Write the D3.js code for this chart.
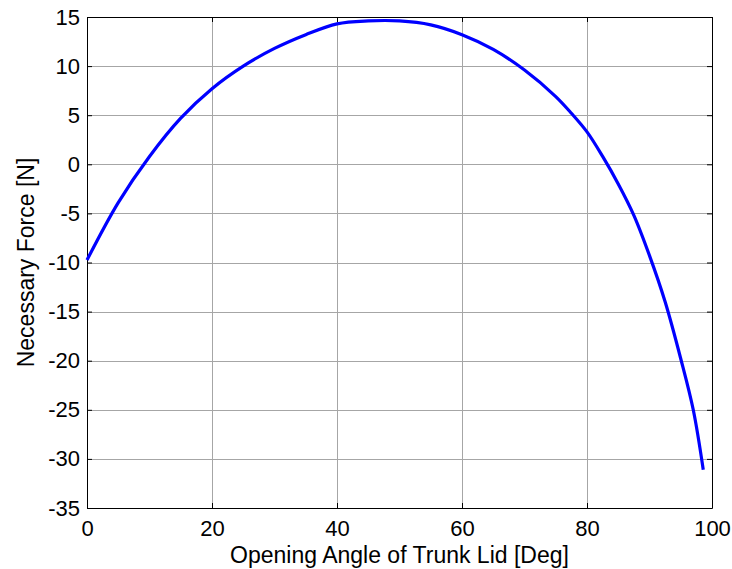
<!DOCTYPE html>
<html>
<head>
<meta charset="utf-8">
<script src="https://cdn.jsdelivr.net/npm/d3@7"></script>
<style>
  body { margin: 0; background: #fff; }
  text { font-family: "Liberation Sans", Arial, sans-serif; }
</style>
</head>
<body>
<div id="chart"></div>
<script>
// opening angle [deg] and force [N]
var angle = [0, 5, 10, 15, 20, 25, 30, 35, 40, 45, 50, 55, 60, 65, 70, 75, 77.5, 80, 82.5, 85, 87.5, 90, 92.5, 95, 97, 98.6];
var force = [-9.75, -3.9, 0.8, 4.7, 7.7, 10.0, 11.8, 13.2, 14.3, 14.6, 14.6, 14.2, 13.2, 11.7, 9.6, 6.9, 5.2, 3.3, 0.8, -2.0, -5.2, -9.3, -14.0, -19.8, -25.0, -31.1];
var xTicks = [0, 20, 40, 60, 80, 100];
var yTicks = [15, 10, 5, 0, -5, -10, -15, -20, -25, -30, -35];

var W = 732, H = 569;
var margin = {top: 17, right: 20, bottom: 61, left: 87};
var width = W - margin.left - margin.right,
    height = H - margin.top - margin.bottom;

var svg = d3.select("#chart").append("svg")
    .attr("width", W)
    .attr("height", H);

var g = svg.append("g")
    .attr("transform", "translate(" + margin.left + "," + margin.top + ")");

var x = d3.scaleLinear().domain([0, 100]).range([0, width]);
var y = d3.scaleLinear().domain([-35, 15]).range([height, 0]);

// plain hyphen like matlab, not the unicode minus
var fmt = function(d) { return String(d); };

// grid
g.append("g").selectAll("line.gx")
    .data(xTicks.slice(1, -1))
  .enter().append("line")
    .attr("x1", function(d) { return Math.round(x(d)) + 0.5; })
    .attr("x2", function(d) { return Math.round(x(d)) + 0.5; })
    .attr("y1", 0).attr("y2", height)
    .attr("stroke", "#a6a6a6").attr("stroke-width", 1);

g.append("g").selectAll("line.gy")
    .data(yTicks.slice(1, -1))
  .enter().append("line")
    .attr("y1", function(d) { return Math.round(y(d)) + 0.5; })
    .attr("y2", function(d) { return Math.round(y(d)) + 0.5; })
    .attr("x1", 0).attr("x2", width)
    .attr("stroke", "#a6a6a6").attr("stroke-width", 1);

// axes, ticks pointing inward on all four sides
var xAxis = d3.axisBottom(x).tickValues(xTicks).tickFormat(fmt).tickSizeInner(-5).tickSizeOuter(0).tickPadding(12);
var yAxis = d3.axisLeft(y).tickValues(yTicks).tickFormat(fmt).tickSizeInner(-5).tickSizeOuter(0).tickPadding(7);

g.append("g").attr("transform", "translate(0," + height + ")").call(xAxis);
g.append("g").call(yAxis);
g.append("g").call(d3.axisTop(x).tickValues(xTicks).tickSizeInner(-5).tickSizeOuter(0).tickFormat(""));
g.append("g").attr("transform", "translate(" + width + ",0)")
    .call(d3.axisRight(y).tickValues(yTicks).tickSizeInner(-5).tickSizeOuter(0).tickFormat(""));

g.selectAll(".domain").attr("stroke", "#000");
g.selectAll(".tick line").attr("stroke", "#000");
g.selectAll(".tick text")
    .style("font-family", "'Liberation Sans', Arial, sans-serif")
    .style("font-size", "22px")
    .attr("fill", "#000");

// curve
var line = d3.line()
    .x(function(d, i) { return x(angle[i]); })
    .y(function(d, i) { return y(force[i]); })
    .curve(d3.curveCatmullRom);

g.append("path")
    .datum(force)
    .attr("d", line)
    .attr("fill", "none")
    .attr("stroke", "#0000ff")
    .attr("stroke-width", 3.2);

// labels
svg.append("text")
    .attr("x", margin.left + width / 2)
    .attr("y", 563)
    .attr("text-anchor", "middle")
    .style("font-size", "23px")
    .text("Opening Angle of Trunk Lid [Deg]");

svg.append("text")
    .attr("transform", "translate(34," + (margin.top + height / 2) + ") rotate(-90)")
    .attr("text-anchor", "middle")
    .style("font-size", "23px")
    .text("Necessary Force [N]");
</script>
</body>
</html>
